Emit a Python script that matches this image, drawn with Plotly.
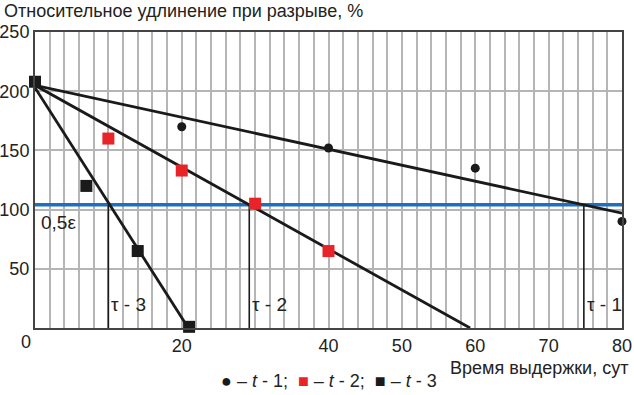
import plotly.graph_objects as go

# Data
t1_x = [20, 40, 60, 80]
t1_y = [170, 152, 135, 90]
t2_x = [10, 20, 30, 40]
t2_y = [160, 133, 105, 65]
t3_x = [0, 7, 14, 21]
t3_y = [208, 120, 65, 1]

# Trend lines (start / end)
trend1_x = [0, 80]
trend1_y = [205, 97]
trend2_x = [0, 59.3]
trend2_y = [205, 0]
trend3_x = [0, 20.9]
trend3_y = [203, 0]

level_half = 104          # 0,5ε
tau_x = [74.8, 29.2, 10.0]
tau_labels = ["τ - 1", "τ - 2", "τ - 3"]

x_tickvals = [20, 40, 50, 60, 70, 80]
y_tickvals = [50, 100, 150, 200, 250]

FONT = "Liberation Sans, Arial, sans-serif"
DARK = "#1a1a1a"
TXT = "#222222"

fig = go.Figure()

# Blue 0.5ε line
fig.add_trace(go.Scatter(x=[0, 80], y=[level_half, level_half], mode="lines",
                         line=dict(color="#1f6fbf", width=3.5), showlegend=False, hoverinfo="skip"))

# tau verticals
for tx in tau_x:
    fig.add_trace(go.Scatter(x=[tx, tx], y=[0, level_half], mode="lines",
                             line=dict(color=DARK, width=1.6), showlegend=False, hoverinfo="skip"))

# Trend lines
for xs, ys in [(trend1_x, trend1_y), (trend2_x, trend2_y), (trend3_x, trend3_y)]:
    fig.add_trace(go.Scatter(x=xs, y=ys, mode="lines", line=dict(color=DARK, width=2.8),
                             showlegend=False, hoverinfo="skip"))

# Markers
fig.add_trace(go.Scatter(x=t1_x, y=t1_y, mode="markers",
                         marker=dict(symbol="circle", size=9, color=DARK), showlegend=False, cliponaxis=False))
fig.add_trace(go.Scatter(x=t2_x, y=t2_y, mode="markers",
                         marker=dict(symbol="square", size=12, color="#e82428"), showlegend=False, cliponaxis=False))
fig.add_trace(go.Scatter(x=t3_x, y=t3_y, mode="markers",
                         marker=dict(symbol="square", size=12, color=DARK), showlegend=False, cliponaxis=False))

annotations = []
# tau labels
for tx, lab in zip(tau_x, tau_labels):
    annotations.append(dict(x=tx, y=19.5, xref="x", yref="y", text=lab, showarrow=False,
                            xanchor="left", xshift=1, font=dict(size=19, color=TXT, family=FONT)))
annotations.append(dict(x=0, y=level_half, xref="x", yref="y", text="0,5ε", showarrow=False,
                        xanchor="left", yanchor="top", xshift=4, yshift=-5,
                        font=dict(size=19, color=TXT, family=FONT)))
# origin label
annotations.append(dict(x=0, y=0, xref="x", yref="y", text="0", showarrow=False,
                        xanchor="center", yanchor="top", xshift=-9, yshift=-2,
                        font=dict(size=18, color=TXT, family=FONT)))
# y title (top-left)
annotations.append(dict(x=-0.057, y=1.07, xref="paper", yref="paper",
                        text="Относительное удлинение при разрыве, %", showarrow=False,
                        xanchor="left", yanchor="middle", font=dict(size=18, color=TXT, family=FONT)))
# x title
annotations.append(dict(x=1.014, y=-0.135, xref="paper", yref="paper", text="Время выдержки, сут",
                        showarrow=False, xanchor="right", yanchor="middle",
                        font=dict(size=18, color=TXT, family=FONT)))
legend_text = ("<span style='color:#1a1a1a'>●</span> – <i>t</i> - 1;  "
               "<span style='color:#e82428'>■</span> – <i>t</i> - 2;  "
               "<span style='color:#1a1a1a'>■</span> – <i>t</i> - 3")
annotations.append(dict(x=0.5, y=-0.179, xref="paper", yref="paper", text=legend_text,
                        showarrow=False, xanchor="center", yanchor="middle",
                        font=dict(size=18, color=TXT, family=FONT)))

fig.update_layout(
    width=634, height=395,
    margin=dict(l=35, r=12, t=32, b=67),
    paper_bgcolor="white", plot_bgcolor="white",
    annotations=annotations,
    font=dict(family=FONT, size=18, color=TXT),
)
fig.update_xaxes(range=[0, 80], tickvals=x_tickvals, showgrid=True, gridcolor="#b5b5b5", gridwidth=1.5,
                 minor=dict(dtick=2, showgrid=True, gridcolor="#b5b5b5", gridwidth=1.5),
                 showline=True, linecolor="#444", linewidth=2, mirror=True, zeroline=False,
                 ticks="", automargin=False, tickfont=dict(size=18, family=FONT, color=TXT))
fig.update_yaxes(range=[0, 250], tickvals=y_tickvals, showgrid=True, gridcolor="#b5b5b5", gridwidth=1.5,
                 showline=True, linecolor="#444", linewidth=2, mirror=True, zeroline=False,
                 ticks="", ticklabelstandoff=0, automargin=False,
                 tickfont=dict(size=18, family=FONT, color=TXT))

fig.write_html("out.html", config={"displayModeBar": False},
               post_script="document.body.style.margin='0';document.body.style.overflow='hidden';")
